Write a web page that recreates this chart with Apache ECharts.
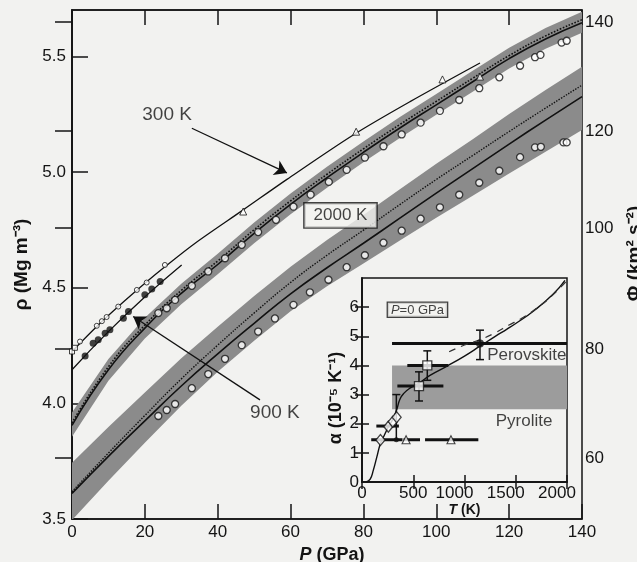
<!DOCTYPE html>
<html><head><meta charset="utf-8">
<script src="https://cdn.jsdelivr.net/npm/echarts@6.0.0/dist/echarts.min.js"></script>
<style>html,body{margin:0;padding:0;background:#f2f2f0;}#c{width:637px;height:562px;}</style>
</head><body><div id="c"></div>
<script>
// ---------- main panel data ----------
const bandP        = [0, 10, 20, 30, 40, 50, 60, 70, 80, 90, 100, 110, 120, 130, 140];
// density of perovskite at 2000 K (left axis)
const rhoLine2000  = [3.905, 4.145, 4.325, 4.475, 4.60, 4.735, 4.86, 4.975, 5.085, 5.19, 5.29, 5.39, 5.49, 5.575, 5.645];
const rhoDot2000   = [3.915, 4.158, 4.338, 4.488, 4.615, 4.75, 4.875, 4.99, 5.10, 5.205, 5.305, 5.405, 5.503, 5.588, 5.658];
const rhoLow2000   = [3.855, 4.098, 4.28, 4.428, 4.558, 4.692, 4.817, 4.932, 5.042, 5.147, 5.247, 5.347, 5.447, 5.532, 5.602];
const rhoHigh2000  = [3.96, 4.192, 4.37, 4.517, 4.647, 4.782, 4.907, 5.022, 5.132, 5.237, 5.337, 5.437, 5.537, 5.622, 5.692];
// seismic parameter at 2000 K (right axis)
const phiLine2000  = [53.5, 60.3, 66.8, 73.2, 79.1, 84.7, 90.1, 94.9, 99.4, 104.0, 108.6, 113.1, 117.6, 122.0, 126.3];
const phiDot2000   = [53.8, 60.9, 67.8, 74.5, 80.7, 86.6, 92.2, 97.2, 101.8, 106.5, 111.1, 115.5, 119.9, 124.2, 128.4];
const phiLow2000   = [48.6, 55.8, 62.8, 69.6, 75.8, 81.5, 86.9, 91.5, 95.7, 99.9, 104.1, 108.1, 112.2, 116.2, 120.2];
const phiHigh2000  = [59.1, 65.7, 72.0, 78.3, 84.1, 89.7, 95.1, 100.0, 104.6, 109.3, 114.0, 118.5, 123.1, 127.5, 131.8];
// reference model (open circles)
const premRhoP = [23.7, 26, 28.3, 32.9, 37.4, 42, 46.6, 51.1, 56, 60.8, 65.5, 70.5, 75.4, 80.4, 85.5, 90.5, 95.7, 101, 106.3, 111.8, 117.3, 123, 127.1, 128.6, 134.4, 135.8];
const premRho  = [4.39, 4.411, 4.447, 4.508, 4.57, 4.627, 4.685, 4.74, 4.793, 4.85, 4.902, 4.957, 5.009, 5.062, 5.111, 5.162, 5.213, 5.264, 5.311, 5.362, 5.409, 5.459, 5.496, 5.506, 5.559, 5.567];
const premPhiP = [23.7, 26, 28.3, 32.9, 37.4, 42, 46.6, 51.1, 55.7, 60.8, 65.3, 70.4, 75.4, 80.4, 85.5, 90.5, 95.7, 101, 106.3, 111.8, 117.3, 123, 127.1, 128.7, 134.9, 135.8];
const premPhi  = [67.7, 68.8, 69.9, 72.8, 75.4, 78.2, 80.7, 83.2, 85.6, 88.1, 90.4, 92.7, 95.0, 97.2, 99.5, 101.7, 103.9, 106.0, 108.3, 110.5, 112.7, 115.2, 117.0, 117.1, 117.9, 117.9];
// 300 K
const k300P    = [0, 6.8, 12.7, 20.5, 25.5, 33.8, 47, 59, 77.2, 92.8, 112];
const k300Rho  = [4.224, 4.332, 4.418, 4.525, 4.59, 4.692, 4.836, 4.968, 5.16, 5.304, 5.471];
const k300SqP  = [0, 0.8];
const k300SqRho= [4.224, 4.24];
const k300CiP  = [2.2, 6.8, 8.2, 9.5, 12.7, 17.8, 20.5, 25.5];
const k300CiRho= [4.267, 4.335, 4.355, 4.373, 4.418, 4.49, 4.522, 4.598];
const triP     = [47, 78, 101.7, 112];
const triRho   = [4.829, 5.174, 5.40, 5.412];
// 900 K
const k900P    = [0, 10, 20, 30.1];
const k900Rho  = [4.145, 4.31, 4.46, 4.598];
const k900SymP = [3.6, 5.8, 7.2, 9.1, 10.4, 14.1, 15.5, 20, 21.9, 24.2];
const k900SymRho=[4.205, 4.26, 4.275, 4.303, 4.318, 4.368, 4.397, 4.469, 4.494, 4.526];
// annotations (data coordinates)
const labelText = ['300 K', '900 K'];
const labelP    = [26.1, 55.7];
const labelRho  = [5.246, 3.959];
const boxText   = '2000 K';
const boxPos    = [73.7, 4.812];
const arrow300  = [[32.9, 5.189], [59.0, 4.996]];
const arrow900  = [[51.6, 4.015], [16.8, 4.375]];

// ---------- inset data (P = 0 GPa) ----------
const modelT   = [40, 80, 110, 145, 180, 220, 257, 300, 340, 371, 410, 468, 566, 663, 826, 1000, 1151, 1300, 1411, 1500, 1671, 1866, 1980];
const modelA   = [0, 0.1, 0.4, 0.86, 1.32, 1.62, 1.89, 2.15, 2.5, 2.85, 3.05, 3.22, 3.42, 3.66, 3.97, 4.32, 4.66, 5.0, 5.24, 5.44, 5.86, 6.45, 6.92];
const dashT    = [850, 1000, 1150, 1300, 1430, 1550, 1700, 1850, 2010];
const dashA    = [4.47, 4.7, 4.88, 5.12, 5.38, 5.6, 5.95, 6.38, 6.95];
const perovT   = [293, 2000];
const perovA   = [4.75, 4.75];
const pyroT    = [293, 2000];
const pyroA    = [2.5, 4.0];
const diamT    = [180, 257, 300, 338];
const diamA    = [1.44, 1.9, 2.07, 2.22];
const sqT      = [637, 556];
const sqA      = [4.0, 3.29];
const dotT     = [1151, 335];
const dotA     = [4.75, 1.45];
const dotSize  = [8, 5];
const insTriT  = [430, 868];
const insTriA  = [1.45, 1.45];
const hBarLo   = [442, 345, 140, 90, 405, 615];
const hBarHi   = [842, 794, 360, 395, 566, 1135];
const hBarA    = [4.0, 3.29, 1.92, 1.45, 1.45, 1.45];
const vBarT    = [637, 556, 1151, 335];
const vBarLo   = [3.49, 2.78, 4.2, 1.45];
const vBarHi   = [4.5, 3.78, 5.21, 3.0];
const insetLabels = ['Perovskite', 'Pyrolite'];
const insetLabT   = [2000, 1863];
const insetLabA   = [4.32, 2.07];
const insetBoxPos = [541, 5.91];

// tick values
const rhoTicks = [3.5, 4.0, 4.5, 5.0, 5.5];
const phiTickVals = [60, 80, 102.2, 120, 140];
const phiTickLabels = ['60', '80', '100', '120', '140'];
const alphaTicks = [0, 1, 2, 3, 4, 5, 6];

// ---------- build ----------
const zip = (a, b) => a.map((v, i) => [v, b[i]]);
const ink = '#141414';
const font = '"Liberation Sans", Arial, Helvetica, sans-serif';
const bandGray = '#8b8b8b';
const bg = '#f2f2f0';
const axLine = { show: true, lineStyle: { color: ink, width: 1.5 } };
const tick = (len, extra) => Object.assign({ show: true, inside: true, length: len, lineStyle: { color: ink, width: 1.5 } }, extra || {});
const lab = (extra) => Object.assign({ color: ink, fontSize: 17, fontFamily: font }, extra || {});
const openSym = { color: '#fff', borderColor: ink, borderWidth: 1.3 };

function bandRender(color) {
  return function (params, api) {
    if (params.dataIndexInside !== 0) return null;
    const n = params.dataInsideLength;
    const top = [], bot = [];
    for (let j = 0; j < n; j++) {
      top.push(api.coord([api.value(0, j), api.value(2, j)]));
      bot.push(api.coord([api.value(0, j), api.value(1, j)]));
    }
    return { type: 'polygon', shape: { points: top.concat(bot.reverse()) }, style: { fill: color, stroke: null } };
  };
}

const chart = echarts.init(document.getElementById('c'), null, { renderer: 'canvas' });

const option = {
  backgroundColor: bg,
  animation: false,
  grid: [
    { left: 72, right: 55, top: 10, bottom: 43, outerBoundsMode: 'none', containLabel: false,
      show: true, borderColor: ink, borderWidth: 1.5, backgroundColor: 'transparent' },
    { left: 362, top: 278, width: 205, height: 204, outerBoundsMode: 'none', containLabel: false,
      show: true, borderColor: ink, borderWidth: 1.5, backgroundColor: 'transparent' }
  ],
  xAxis: [
    { type: 'value', gridIndex: 0, position: 'bottom', min: 0, max: 140, interval: 20,
      axisLine: axLine, axisTick: tick(15), splitLine: { show: false },
      axisLabel: lab({ margin: 5 }),
      name: '{i|P} {b|(GPa)}', nameLocation: 'middle', nameGap: 25,
      nameTextStyle: { fontSize: 18, fontWeight: 'bold', color: ink, fontFamily: font, padding: [0, 0, 0, 10],
        rich: { i: { fontStyle: 'italic', fontWeight: 'bold', fontSize: 18, color: ink, fontFamily: font },
                b: { fontWeight: 'bold', fontSize: 18, color: ink, fontFamily: font } } } },
    { type: 'value', gridIndex: 0, position: 'top', min: 0, max: 140, interval: 20,
      axisLine: axLine, axisTick: tick(15), axisLabel: { show: false }, splitLine: { show: false } },
    { type: 'value', gridIndex: 1, position: 'bottom', min: 0, max: 2000, interval: 500,
      axisLine: axLine, axisTick: tick(7), splitLine: { show: false },
      axisLabel: lab({ margin: 3, formatter: v => v >= 1000 ? '{s|' + v + '}' : String(v),
        rich: { s: { fontSize: 17, color: ink, fontFamily: font, padding: [0, 20, 0, 0] } } }),
      name: '{i|T} {b|(K)}', nameLocation: 'middle', nameGap: 16,
      nameTextStyle: { fontSize: 14, fontWeight: 'bold', color: ink, fontFamily: font,
        rich: { i: { fontStyle: 'italic', fontWeight: 'bold', fontSize: 14, color: ink, fontFamily: font },
                b: { fontWeight: 'bold', fontSize: 14, color: ink, fontFamily: font } } } },
    { type: 'value', gridIndex: 1, position: 'top', min: 0, max: 2000, interval: 500,
      axisLine: axLine, axisTick: tick(7), axisLabel: { show: false }, splitLine: { show: false } }
  ],
  yAxis: [
    { type: 'value', gridIndex: 0, position: 'left', min: 3.5, max: 5.7,
      axisLine: axLine, splitLine: { show: false },
      axisTick: tick(16, { customValues: rhoTicks }),
      axisLabel: lab({ margin: 6, customValues: rhoTicks, formatter: v => v.toFixed(1) }),
      name: 'ρ (Mg m⁻³)', nameLocation: 'middle', nameGap: 36,
      nameTextStyle: { fontSize: 19, fontWeight: 'bold', color: ink, fontFamily: font } },
    { type: 'value', gridIndex: 0, position: 'right', min: 48.8, max: 142.2,
      axisLine: axLine, splitLine: { show: false },
      axisTick: tick(17, { customValues: phiTickVals }),
      axisLabel: lab({ margin: 3, customValues: phiTickVals,
        formatter: v => { const k = phiTickVals.indexOf(v); return k >= 0 ? phiTickLabels[k] : ''; } }),
      name: 'Φ (km² s⁻²)', nameLocation: 'middle', nameGap: 43,
      nameTextStyle: { fontSize: 19, fontWeight: 'bold', color: ink, fontFamily: font, padding: [0, 0, 0, 22] } },
    { type: 'value', gridIndex: 1, position: 'left', min: 0, max: 7,
      axisLine: axLine, splitLine: { show: false },
      axisTick: tick(7, { customValues: [1, 2, 3, 4, 5, 6] }),
      axisLabel: lab({ margin: 3, customValues: alphaTicks }),
      name: 'α (10⁻⁵ K⁻¹)', nameLocation: 'middle', nameGap: 17,
      nameTextStyle: { fontSize: 18, fontWeight: 'bold', color: ink, fontFamily: font, padding: [0, 36, 0, 0] } },
    { type: 'value', gridIndex: 1, position: 'right', min: 0, max: 7,
      axisLine: axLine, splitLine: { show: false },
      axisTick: tick(7, { customValues: [1, 2, 3, 4, 5, 6] }), axisLabel: { show: false } }
  ],
  series: [
    // ---- bands ----
    { name: 'rhoBand', type: 'custom', xAxisIndex: 0, yAxisIndex: 0, silent: true, clip: true, z: 2,
      encode: { x: 0, y: [1, 2] },
      data: bandP.map((p, i) => [p, rhoLow2000[i], rhoHigh2000[i]]), renderItem: bandRender(bandGray) },
    { name: 'phiBand', type: 'custom', xAxisIndex: 0, yAxisIndex: 1, silent: true, clip: true, z: 2,
      encode: { x: 0, y: [1, 2] },
      data: bandP.map((p, i) => [p, phiLow2000[i], phiHigh2000[i]]), renderItem: bandRender(bandGray) },
    { name: 'rhoDot', type: 'line', xAxisIndex: 0, yAxisIndex: 0, smooth: true, symbol: 'none', silent: true,
      lineStyle: { color: '#111', width: 1.6, type: 'dotted' }, data: zip(bandP, rhoDot2000), z: 3 },
    { name: 'rhoLine', type: 'line', xAxisIndex: 0, yAxisIndex: 0, smooth: true, symbol: 'none', silent: true,
      lineStyle: { color: '#111', width: 1.6 }, data: zip(bandP, rhoLine2000), z: 3 },
    { name: 'phiDot', type: 'line', xAxisIndex: 0, yAxisIndex: 1, smooth: true, symbol: 'none', silent: true,
      lineStyle: { color: '#111', width: 1.4, type: 'dotted' }, data: zip(bandP, phiDot2000), z: 3 },
    { name: 'phiLine', type: 'line', xAxisIndex: 0, yAxisIndex: 1, smooth: true, symbol: 'none', silent: true,
      lineStyle: { color: '#111', width: 1.6 }, data: zip(bandP, phiLine2000), z: 3 },
    // ---- reference circles ----
    { name: 'premRho', type: 'scatter', xAxisIndex: 0, yAxisIndex: 0, symbol: 'circle', symbolSize: 7, silent: true,
      itemStyle: openSym, data: zip(premRhoP, premRho), z: 5 },
    { name: 'premPhi', type: 'scatter', xAxisIndex: 0, yAxisIndex: 1, symbol: 'circle', symbolSize: 7, silent: true,
      itemStyle: openSym, data: zip(premPhiP, premPhi), z: 5 },
    // ---- 300 K ----
    { name: 'k300', type: 'line', xAxisIndex: 0, yAxisIndex: 0, smooth: 0.3, symbol: 'none', silent: true,
      lineStyle: { color: '#111', width: 1.3 }, data: zip(k300P, k300Rho), z: 4,
      markLine: { silent: true, symbol: ['none', 'arrow'], symbolSize: 12, label: { show: false },
        lineStyle: { color: '#111', width: 1.3, type: 'solid' }, emphasis: { disabled: true },
        data: [[{ coord: arrow300[0] }, { coord: arrow300[1] }]] } },
    { name: 'k300sq', type: 'scatter', xAxisIndex: 0, yAxisIndex: 0, symbol: 'rect', symbolSize: 5, silent: true,
      itemStyle: { color: '#fff', borderColor: ink, borderWidth: 1 }, data: zip(k300SqP, k300SqRho), z: 5 },
    { name: 'k300ci', type: 'scatter', xAxisIndex: 0, yAxisIndex: 0, symbol: 'circle', symbolSize: 5, silent: true,
      itemStyle: { color: '#fff', borderColor: ink, borderWidth: 1 }, data: zip(k300CiP, k300CiRho), z: 5 },
    { name: 'k300tri', type: 'scatter', xAxisIndex: 0, yAxisIndex: 0, symbol: 'triangle', symbolSize: 7, silent: true,
      itemStyle: { color: '#fff', borderColor: ink, borderWidth: 1 }, data: zip(triP, triRho), z: 5 },
    // ---- 900 K ----
    { name: 'k900', type: 'line', xAxisIndex: 0, yAxisIndex: 0, smooth: true, symbol: 'none', silent: true,
      lineStyle: { color: '#111', width: 1.3 }, data: zip(k900P, k900Rho), z: 4,
      markLine: { silent: true, symbol: ['none', 'arrow'], symbolSize: 12, label: { show: false },
        lineStyle: { color: '#111', width: 1.3, type: 'solid' }, emphasis: { disabled: true },
        data: [[{ coord: arrow900[0] }, { coord: arrow900[1] }]] } },
    { name: 'k900sym', type: 'scatter', xAxisIndex: 0, yAxisIndex: 0, symbol: 'circle', symbolSize: 7, silent: true,
      itemStyle: { color: '#111' }, data: zip(k900SymP, k900SymRho), z: 5 },
    // ---- main labels ----
    { name: 'labels', type: 'scatter', xAxisIndex: 0, yAxisIndex: 0, symbolSize: 1, silent: true, z: 10,
      itemStyle: { color: 'rgba(0,0,0,0)' },
      data: labelP.map((p, i) => ({ value: [p, labelRho[i]], name: labelText[i] })),
      label: { show: true, position: 'inside', formatter: '{b}', fontSize: 19, color: ink, fontFamily: font } },
    { name: 'box', type: 'scatter', xAxisIndex: 0, yAxisIndex: 0, symbolSize: 1, silent: true, z: 10,
      itemStyle: { color: 'rgba(0,0,0,0)' },
      data: [{ value: boxPos, name: boxText }],
      label: { show: true, position: 'inside', formatter: '{b}', fontSize: 17, color: ink, fontFamily: font,
        borderColor: ink, borderWidth: 1.4, padding: [4, 9, 3, 9], backgroundColor: bg } },

    // ======== inset ========
    { name: 'pyro', type: 'custom', xAxisIndex: 2, yAxisIndex: 2, silent: true, z: 2,
      encode: { x: [0, 1], y: [2, 3] },
      data: [[pyroT[0], pyroT[1], pyroA[0], pyroA[1]]],
      renderItem: (params, api) => {
        const a = api.coord([api.value(0), api.value(3)]);
        const b = api.coord([api.value(1), api.value(2)]);
        return { type: 'rect', shape: { x: a[0], y: a[1], width: b[0] - a[0], height: b[1] - a[1] }, style: { fill: '#9c9c9c' } };
      } },
    { name: 'perov', type: 'line', xAxisIndex: 2, yAxisIndex: 2, symbol: 'none', silent: true,
      lineStyle: { color: '#111', width: 3 }, data: zip(perovT, perovA), z: 3 },
    { name: 'model', type: 'line', xAxisIndex: 2, yAxisIndex: 2, smooth: true, symbol: 'none', silent: true,
      lineStyle: { color: '#111', width: 1.4 }, data: zip(modelT, modelA), z: 4 },
    { name: 'modelDash', type: 'line', xAxisIndex: 2, yAxisIndex: 2, smooth: true, symbol: 'none', silent: true,
      lineStyle: { color: '#333', width: 1.2, type: [7, 6] }, data: zip(dashT, dashA), z: 4 },
    { name: 'hbars', type: 'custom', xAxisIndex: 2, yAxisIndex: 2, silent: true, z: 5,
      encode: { x: [0, 1], y: 2 },
      data: hBarLo.map((lo, i) => [lo, hBarHi[i], hBarA[i]]),
      renderItem: (params, api) => {
        const a = api.coord([api.value(0), api.value(2)]);
        const b = api.coord([api.value(1), api.value(2)]);
        return { type: 'line', shape: { x1: a[0], y1: a[1], x2: b[0], y2: b[1] }, style: { stroke: '#111', lineWidth: 3 } };
      } },
    { name: 'vbars', type: 'custom', xAxisIndex: 2, yAxisIndex: 2, silent: true, z: 5,
      encode: { x: 0, y: [1, 2] },
      data: vBarT.map((t, i) => [t, vBarLo[i], vBarHi[i]]),
      renderItem: (params, api) => {
        const a = api.coord([api.value(0), api.value(1)]);
        const b = api.coord([api.value(0), api.value(2)]);
        const c = 4;
        const st = { stroke: '#111', lineWidth: 1.5 };
        return { type: 'group', children: [
          { type: 'line', shape: { x1: a[0], y1: a[1], x2: b[0], y2: b[1] }, style: st },
          { type: 'line', shape: { x1: a[0] - c, y1: a[1], x2: a[0] + c, y2: a[1] }, style: st },
          { type: 'line', shape: { x1: b[0] - c, y1: b[1], x2: b[0] + c, y2: b[1] }, style: st }
        ] };
      } },
    { name: 'diamonds', type: 'scatter', xAxisIndex: 2, yAxisIndex: 2, symbol: 'diamond', symbolSize: [9, 11], silent: true,
      itemStyle: openSym, data: zip(diamT, diamA), z: 6 },
    { name: 'squares', type: 'scatter', xAxisIndex: 2, yAxisIndex: 2, symbol: 'rect', symbolSize: 9, silent: true,
      itemStyle: openSym, data: zip(sqT, sqA), z: 6 },
    { name: 'dots', type: 'scatter', xAxisIndex: 2, yAxisIndex: 2, symbol: 'circle', silent: true,
      symbolSize: (v, p) => dotSize[p.dataIndex],
      itemStyle: { color: '#111' }, data: zip(dotT, dotA), z: 6 },
    { name: 'insTri', type: 'scatter', xAxisIndex: 2, yAxisIndex: 2, symbol: 'triangle', symbolSize: 8, silent: true,
      itemStyle: { color: '#fff', borderColor: ink, borderWidth: 1.1 }, data: zip(insTriT, insTriA), z: 6 },
    { name: 'insLabels', type: 'scatter', xAxisIndex: 2, yAxisIndex: 2, symbolSize: 1, silent: true, z: 10,
      itemStyle: { color: 'rgba(0,0,0,0)' },
      data: insetLabT.map((t, i) => ({ value: [t, insetLabA[i]], name: insetLabels[i] })),
      label: { show: true, position: [0, 0], align: 'right', verticalAlign: 'middle', formatter: '{b}',
        fontSize: 17, color: ink, fontFamily: font } },
    { name: 'insBox', type: 'scatter', xAxisIndex: 2, yAxisIndex: 2, symbolSize: 1, silent: true, z: 10,
      itemStyle: { color: 'rgba(0,0,0,0)' },
      data: [{ value: insetBoxPos, name: 'box' }],
      label: { show: true, position: 'inside', formatter: '{i|P}{n|=0 GPa}',
        borderColor: ink, borderWidth: 1.3, padding: [1, 3, 0, 3], backgroundColor: bg,
        rich: { i: { fontStyle: 'italic', fontSize: 13, color: ink, fontFamily: font },
                n: { fontSize: 13, color: ink, fontFamily: font } } } }
  ]
};
chart.setOption(option);
</script>
</body></html>
